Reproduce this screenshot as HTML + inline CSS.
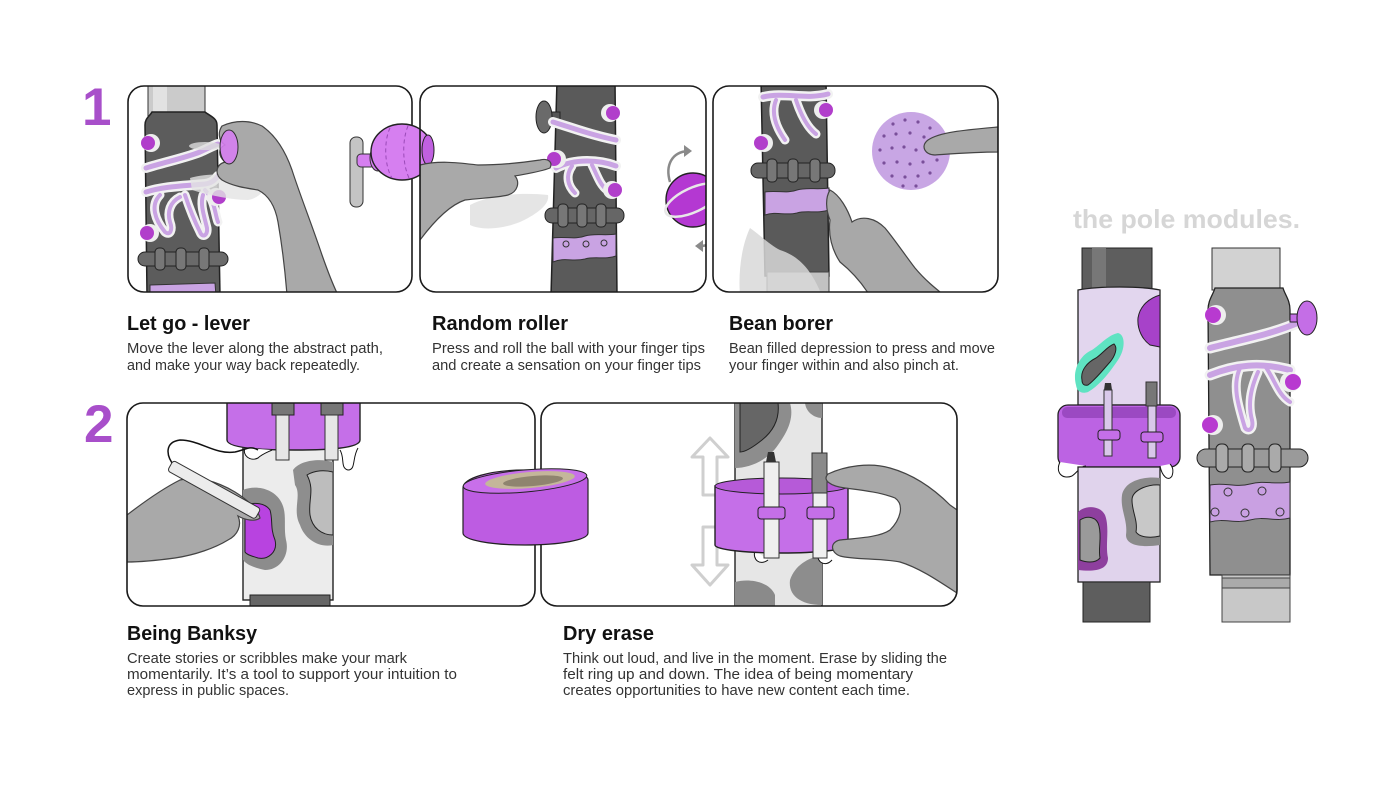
<!DOCTYPE html>
<html><head><meta charset="utf-8"><style>
html,body{margin:0;padding:0;background:#fff;}
svg{display:block;}
.t{font-family:"Liberation Sans",Arial,sans-serif;font-weight:bold;font-size:20px;fill:#111;}
.b{font-family:"Liberation Sans",Arial,sans-serif;font-size:14.5px;fill:#333;}
.n{font-family:"Liberation Sans",Arial,sans-serif;font-weight:bold;font-size:53px;fill:#a84fca;}
</style></head><body>
<svg width="1400" height="788" viewBox="0 0 1400 788" xmlns="http://www.w3.org/2000/svg">
<defs>
<clipPath id="c1"><rect x="128" y="86" width="284" height="206" rx="16"/></clipPath>
<clipPath id="c2"><rect x="420" y="86" width="286" height="206" rx="16"/></clipPath>
<clipPath id="c3"><rect x="713" y="86" width="285" height="206" rx="16"/></clipPath>
<clipPath id="c4"><rect x="127" y="403" width="408" height="203" rx="16"/></clipPath>
<clipPath id="c5"><rect x="541" y="403" width="416" height="203" rx="16"/></clipPath>
</defs>
<rect width="1400" height="788" fill="#fff"/>

<!-- numbers -->
<text class="n" x="82" y="125">1</text>
<text class="n" x="84" y="442">2</text>

<!-- PANEL 1 -->
<g clip-path="url(#c1)">
 <rect x="148" y="80" width="57" height="36" fill="#cbcbcb" stroke="#333"/>
 <rect x="153" y="80" width="14" height="34" fill="#e2e2e2"/>
 <path d="M152,112 L205,112 C210,116 217,118 217,125 L220,296 L147,296 L145,125 C145,118 150,116 152,112 Z" fill="#5c5c5c" stroke="#222" stroke-width="1.5"/>
 <g fill="none" stroke-linecap="round">
  <path d="M146,168 C165,162 185,158 200,152 C207,149 212,146 218,144" stroke="#f2f2f2" stroke-width="10"/>
  <path d="M146,168 C165,162 185,158 200,152 C207,149 212,146 218,144" stroke="#c9a3e3" stroke-width="5"/>
  <path d="M146,192 C165,186 185,186 205,184 C212,183 215,180 218,176" stroke="#f2f2f2" stroke-width="10"/>
  <path d="M160,195 C150,205 155,220 165,232 C170,236 173,230 170,222 C167,212 170,202 180,197" stroke="#f2f2f2" stroke-width="9"/>
  <path d="M185,195 C190,210 195,222 200,232 C202,238 208,236 207,228 C204,215 200,205 203,195" stroke="#f2f2f2" stroke-width="9"/>
  <path d="M205,190 C215,200 215,215 218,222" stroke="#f2f2f2" stroke-width="9"/>
  <path d="M146,192 C165,186 185,186 205,184 C212,183 215,180 218,176" stroke="#c9a3e3" stroke-width="5"/>
  <path d="M160,195 C150,205 155,220 165,232 C170,236 173,230 170,222 C167,212 170,202 180,197" stroke="#c9a3e3" stroke-width="4"/>
  <path d="M185,195 C190,210 195,222 200,232 C202,238 208,236 207,228 C204,215 200,205 203,195" stroke="#c9a3e3" stroke-width="4"/>
  <path d="M205,190 C215,200 215,215 218,222" stroke="#c9a3e3" stroke-width="4"/>
 </g>
 <circle cx="151" cy="143" r="9" fill="#eee"/><circle cx="148" cy="143" r="7" fill="#b13ecb"/>
 <circle cx="216" cy="197" r="9" fill="#eee"/><circle cx="219" cy="197" r="7" fill="#b13ecb"/>
 <circle cx="150" cy="233" r="9" fill="#eee"/><circle cx="147" cy="233" r="7" fill="#b13ecb"/>
 <rect x="138" y="252" width="90" height="14" rx="7" fill="#6a6a6a" stroke="#222"/>
 <rect x="155" y="248" width="10" height="22" rx="4" fill="#777" stroke="#222"/>
 <rect x="176" y="248" width="10" height="22" rx="4" fill="#777" stroke="#222"/>
 <rect x="199" y="248" width="10" height="22" rx="4" fill="#777" stroke="#222"/>
 <path d="M150,285 L215,283 L216,296 L150,296 Z" fill="#c9a3e3" stroke="#333"/>
 <path d="M190,178 C210,172 240,175 265,178 C268,188 260,198 248,200 C230,200 205,194 192,190 Z" fill="#e3e3e3" opacity="0.8"/>
 <ellipse cx="205" cy="146" rx="16" ry="4" fill="#dcdcdc" opacity="0.8"/>
 <path d="M222,126 C235,120 250,120 262,126 C275,135 285,150 292,170 C300,195 312,225 322,255 C328,272 333,285 338,295 L287,295 C285,270 282,245 278,222 C275,205 268,195 258,190 C245,188 232,186 222,180 C215,175 215,165 225,162 C218,156 218,148 225,145 C218,140 218,132 222,126 Z" fill="#a9a9a9" stroke="#444" stroke-width="1.2"/>
 <ellipse cx="229" cy="147" rx="9" ry="17" fill="#d67ff0" stroke="#222" opacity="0.9"/>
</g>
<rect x="128" y="86" width="284" height="206" rx="16" fill="none" stroke="#1a1a1a" stroke-width="1.6"/>
<rect x="350" y="137" width="13" height="70" rx="6" fill="#c4c4c4" stroke="#333"/>
<rect x="357" y="154" width="18" height="13" rx="4" fill="#d67ff0" stroke="#333"/>
<ellipse cx="378" cy="158" rx="8" ry="13" fill="#d67ff0" stroke="#333"/>
<ellipse cx="402" cy="152" rx="31" ry="28" fill="#d67ff0" stroke="#222" stroke-width="1.4"/>
<path d="M390,128 C384,140 384,165 392,178 M408,126 C402,140 402,165 410,180" fill="none" stroke="#9a4ab8" stroke-dasharray="4 3"/>
<ellipse cx="428" cy="150" rx="6" ry="15" fill="#c060e0" stroke="#222"/>

<!-- PANEL 2 -->
<g clip-path="url(#c2)">
 <path d="M557,80 L615,80 L617,296 L551,296 Z" fill="#5a5a5a" stroke="#222" stroke-width="1.5"/>
 <rect x="548" y="112" width="12" height="9" fill="#555" stroke="#222"/>
 <ellipse cx="544" cy="117" rx="8" ry="16" fill="#6a6a6a" stroke="#222"/>
 <g fill="none" stroke-linecap="round">
  <path d="M553,122 C570,127 590,135 616,140" stroke="#f2f2f2" stroke-width="10"/>
  <path d="M556,168 C575,158 600,160 616,166" stroke="#f2f2f2" stroke-width="10"/>
  <path d="M572,166 C565,176 568,186 575,193" stroke="#f2f2f2" stroke-width="9"/>
  <path d="M592,165 C597,175 600,185 607,190" stroke="#f2f2f2" stroke-width="9"/>
  <path d="M553,122 C570,127 590,135 616,140" stroke="#c9a3e3" stroke-width="5"/>
  <path d="M556,168 C575,158 600,160 616,166" stroke="#c9a3e3" stroke-width="5"/>
  <path d="M572,166 C565,176 568,186 575,193" stroke="#c9a3e3" stroke-width="4"/>
  <path d="M592,165 C597,175 600,185 607,190" stroke="#c9a3e3" stroke-width="4"/>
 </g>
 <circle cx="610" cy="113" r="9" fill="#eee"/><circle cx="613" cy="113" r="7" fill="#b13ecb"/>
 <circle cx="557" cy="159" r="9" fill="#eee"/><circle cx="554" cy="159" r="7" fill="#b13ecb"/>
 <circle cx="612" cy="190" r="9" fill="#eee"/><circle cx="615" cy="190" r="7" fill="#b13ecb"/>
 <rect x="545" y="208" width="79" height="15" rx="7" fill="#666" stroke="#222"/>
 <rect x="558" y="204" width="10" height="23" rx="4" fill="#777" stroke="#222"/>
 <rect x="577" y="204" width="10" height="23" rx="4" fill="#777" stroke="#222"/>
 <rect x="596" y="204" width="10" height="23" rx="4" fill="#777" stroke="#222"/>
 <path d="M553,238 C565,236 575,240 585,236 C595,233 605,236 616,234 L616,256 C605,260 595,256 585,259 C572,262 565,257 553,262 Z" fill="#c9a3e3" stroke="#333"/>
 <circle cx="566" cy="244" r="3" fill="none" stroke="#333"/><circle cx="586" cy="244" r="3" fill="none" stroke="#333"/><circle cx="604" cy="243" r="3" fill="none" stroke="#333"/>
 <path d="M470,205 C490,195 520,192 548,195 C550,205 535,215 520,222 C500,230 480,230 470,225 Z" fill="#e0e0e0" opacity="0.85"/>
 <path d="M420,165 C440,160 460,163 478,165 C500,165 520,163 540,160 C548,158 553,162 550,168 C540,172 525,174 515,176 C520,182 518,192 508,195 C495,198 480,198 465,200 C450,205 435,220 420,240 Z" fill="#a9a9a9" stroke="#444" stroke-width="1.2"/>
 <circle cx="693" cy="200" r="27" fill="#b438d2" stroke="#222" stroke-width="1.4"/>
 <ellipse cx="693" cy="200" rx="30" ry="12" transform="rotate(-25 693 200)" fill="none" stroke="#e8e8e8" stroke-width="2.5"/>
 <path d="M670,182 C665,165 672,152 688,151" fill="none" stroke="#8a8a8a" stroke-width="2.5"/>
 <polygon points="692,151 684,145 684,157" fill="#8a8a8a"/>
 <path d="M718,222 C722,238 712,246 700,246" fill="none" stroke="#8a8a8a" stroke-width="2.5"/>
 <polygon points="695,246 703,240 703,252" fill="#8a8a8a"/>
</g>
<rect x="420" y="86" width="286" height="206" rx="16" fill="none" stroke="#1a1a1a" stroke-width="1.6"/>

<!-- PANEL 3 -->
<g clip-path="url(#c3)">
 <path d="M761,80 L826,80 L829,276 L765,276 Z" fill="#5a5a5a" stroke="#222" stroke-width="1.5"/>
 <rect x="767" y="272" width="62" height="26" fill="#c2c2c2" stroke="#444"/>
 <g fill="none" stroke-linecap="round">
  <path d="M763,97 C785,92 805,100 828,94" stroke="#f2f2f2" stroke-width="10"/>
  <path d="M776,100 C770,115 778,130 785,140" stroke="#f2f2f2" stroke-width="9"/>
  <path d="M796,100 C801,115 808,128 816,134" stroke="#f2f2f2" stroke-width="9"/>
  <path d="M763,97 C785,92 805,100 828,94" stroke="#c9a3e3" stroke-width="5"/>
  <path d="M776,100 C770,115 778,130 785,140" stroke="#c9a3e3" stroke-width="4"/>
  <path d="M796,100 C801,115 808,128 816,134" stroke="#c9a3e3" stroke-width="4"/>
 </g>
 <circle cx="823" cy="110" r="9" fill="#eee"/><circle cx="826" cy="110" r="7" fill="#b13ecb"/>
 <circle cx="764" cy="143" r="9" fill="#eee"/><circle cx="761" cy="143" r="7" fill="#b13ecb"/>
 <rect x="751" y="163" width="84" height="15" rx="7" fill="#666" stroke="#222"/>
 <rect x="767" y="159" width="10" height="23" rx="4" fill="#777" stroke="#222"/>
 <rect x="788" y="159" width="10" height="23" rx="4" fill="#777" stroke="#222"/>
 <rect x="810" y="159" width="10" height="23" rx="4" fill="#777" stroke="#222"/>
 <path d="M765,192 C777,190 787,194 797,190 C807,187 817,190 829,188 L829,210 C817,214 807,210 797,213 C785,216 777,211 765,215 Z" fill="#c9a3e3" stroke="#333"/>
 <path d="M740,296 C738,270 742,245 750,228 C760,235 770,245 780,250 C795,255 810,265 822,296 Z" fill="#d8d8d8" opacity="0.85"/>
 <path d="M830,190 C840,195 848,210 852,222 C862,215 875,218 885,228 C895,240 905,255 915,268 C925,280 935,288 945,296 L870,296 C860,280 850,270 840,262 C832,250 828,235 830,220 C826,210 825,198 830,190 Z" fill="#a8a8a8" stroke="#444" stroke-width="1.2"/>
 <circle cx="911" cy="151" r="39" fill="#c8a6e4"/>
 <g fill="#7a4f9a">
  <circle cx="893" cy="124" r="1.6"/><circle cx="905" cy="120" r="1.6"/><circle cx="918" cy="122" r="1.6"/><circle cx="930" cy="128" r="1.6"/>
  <circle cx="884" cy="136" r="1.6"/><circle cx="896" cy="134" r="1.6"/><circle cx="910" cy="133" r="1.6"/><circle cx="924" cy="137" r="1.6"/><circle cx="938" cy="140" r="1.6"/>
  <circle cx="880" cy="150" r="1.6"/><circle cx="892" cy="148" r="1.6"/><circle cx="904" cy="147" r="1.6"/><circle cx="916" cy="150" r="1.6"/>
  <circle cx="884" cy="163" r="1.6"/><circle cx="897" cy="162" r="1.6"/><circle cx="910" cy="164" r="1.6"/><circle cx="923" cy="162" r="1.6"/><circle cx="937" cy="160" r="1.6"/>
  <circle cx="892" cy="176" r="1.6"/><circle cx="905" cy="177" r="1.6"/><circle cx="918" cy="176" r="1.6"/><circle cx="930" cy="173" r="1.6"/>
  <circle cx="903" cy="186" r="1.6"/><circle cx="916" cy="186" r="1.6"/>
 </g>
 <path d="M928,140 C940,132 965,130 998,127 L998,152 C975,152 950,154 935,155 C925,155 920,146 928,140 Z" fill="#a9a9a9" stroke="#444" stroke-width="1.2"/>
</g>
<rect x="713" y="86" width="285" height="206" rx="16" fill="none" stroke="#1a1a1a" stroke-width="1.6"/>

<!-- PANEL 4 -->
<g clip-path="url(#c4)">
 <rect x="243" y="440" width="90" height="160" fill="#ececec" stroke="#222" stroke-width="1.4"/>
 <rect x="250" y="595" width="80" height="15" fill="#666" stroke="#222"/>
 <path d="M293,470 C300,460 320,458 333,462 L333,545 C320,548 305,540 300,525 C292,510 302,495 295,485 Z" fill="#8e8e8e"/>
 <path d="M307,475 C315,470 325,470 333,472 L333,535 C322,535 312,528 310,515 C308,500 315,490 307,475 Z" fill="#bdbdbd" stroke="#222"/>
 <path d="M243,490 C255,485 272,488 280,500 C288,512 283,525 286,540 C290,555 280,570 265,570 C255,568 247,565 243,560 Z" fill="#8c8c8c"/>
 <path d="M245,505 C255,502 265,503 270,510 C273,520 270,528 275,540 C278,552 268,560 258,558 C252,556 247,555 245,552 Z" fill="#b843e0" stroke="#222"/>
 <path d="M227,398 L360,398 L360,440 C360,448 330,450 295,450 C260,450 227,448 227,440 Z" fill="#c56fe8" stroke="#222" stroke-width="1.4"/>
 <path d="M245,448 C242,455 250,462 258,458 C262,454 268,452 272,450" fill="#fff" stroke="#111"/>
 <path d="M340,450 C345,458 340,468 348,470 C356,470 352,458 358,448" fill="#fff" stroke="#111"/>
 <rect x="272" y="403" width="22" height="12" fill="#777" stroke="#222"/>
 <rect x="276" y="415" width="13" height="45" fill="#e6e6e6" stroke="#333"/>
 <rect x="321" y="403" width="22" height="12" fill="#777" stroke="#222"/>
 <rect x="325" y="415" width="13" height="45" fill="#e6e6e6" stroke="#333"/>
 <path d="M175,467 C165,455 165,442 180,440 C200,440 215,455 235,452 C245,450 250,445 258,450" fill="none" stroke="#111" stroke-width="1.5"/>
 <path d="M127,515 C140,505 160,490 180,480 C195,476 215,480 235,492 C248,500 258,510 260,518 C255,522 245,520 238,516 C242,525 238,535 228,540 C215,548 195,555 175,558 C160,560 140,562 127,562 Z" fill="#a9a9a9" stroke="#444" stroke-width="1.2"/>
 <g transform="rotate(29 173 467)"><rect x="170" y="461" width="100" height="12" rx="3" fill="#ececec" stroke="#333"/></g>
</g>
<rect x="127" y="403" width="408" height="203" rx="16" fill="none" stroke="#1a1a1a" stroke-width="1.6"/>

<!-- PANEL 5 -->
<g clip-path="url(#c5)">
 <rect x="735" y="398" width="87" height="215" fill="#e6e6e6" stroke="#222" stroke-width="1.4"/>
 <path d="M735,403 L790,403 C795,420 785,435 778,445 C768,460 750,468 735,468 Z" fill="#8d8d8d"/>
 <path d="M740,403 L778,403 C780,420 772,432 762,440 C752,448 745,452 740,452 Z" fill="#666" stroke="#222"/>
 <path d="M805,403 L822,403 L822,418 C814,418 806,412 805,403 Z" fill="#8d8d8d"/>
 <path d="M735,582 C750,578 770,582 775,595 L775,610 L735,610 Z" fill="#8a8a8a"/>
 <path d="M822,555 C808,558 795,565 790,580 C788,595 800,605 822,605 Z" fill="#8d8d8d"/>
 <polygon points="710,438 728,457 717,457 717,495 703,495 703,457 692,457" fill="#fff" stroke="#cfcfcf" stroke-width="3" stroke-linejoin="round"/>
 <polygon points="703,527 717,527 717,565 728,565 710,585 692,565 703,565" fill="#fff" stroke="#cfcfcf" stroke-width="3" stroke-linejoin="round"/>
 <path d="M755,550 C752,560 760,566 768,560" fill="#fff" stroke="#111"/>
 <path d="M818,550 C815,562 825,568 832,560" fill="#fff" stroke="#111"/>
 <path d="M715,486 L848,486 L848,545 C848,550 815,553 782,553 C749,553 715,550 715,545 Z" fill="#c56fe8" stroke="#222" stroke-width="1.4"/>
 <ellipse cx="781.5" cy="486" rx="66.5" ry="8" fill="#b65ad8" stroke="#222"/>
 <path d="M768,452 L774,452 L776,462 L766,462 Z" fill="#333"/>
 <rect x="764" y="462" width="15" height="96" fill="#efefef" stroke="#333"/>
 <rect x="812" y="453" width="15" height="40" fill="#8a8a8a" stroke="#333"/>
 <rect x="813" y="493" width="14" height="65" fill="#efefef" stroke="#333"/>
 <rect x="758" y="507" width="27" height="12" rx="3" fill="#c56fe8" stroke="#222"/>
 <rect x="807" y="507" width="27" height="12" rx="3" fill="#c56fe8" stroke="#222"/>
 <path d="M828,474 C845,466 870,462 890,468 C915,475 935,490 950,505 L960,512 L960,595 C940,582 920,568 900,562 C880,558 855,560 840,556 C830,552 830,542 840,540 C860,538 880,537 890,530 C900,520 905,505 895,498 C880,492 860,490 845,488 C830,486 822,480 828,474 Z" fill="#a9a9a9" stroke="#444" stroke-width="1.2"/>
</g>
<rect x="541" y="403" width="416" height="203" rx="16" fill="none" stroke="#1a1a1a" stroke-width="1.6"/>

<!-- tape roll -->
<path d="M463,488 C463,478 490,470 525,470 C560,470 588,472 588,480 L588,533 C588,540 560,545 525,545 C490,545 463,540 463,533 Z" fill="#bd5ce2" stroke="#222" stroke-width="1.2"/>
<ellipse cx="525" cy="481" rx="62" ry="11" transform="rotate(-5 525 481)" fill="#c86fea" stroke="#222"/>
<ellipse cx="530" cy="480" rx="45" ry="8" transform="rotate(-5 530 480)" fill="#c4b69a"/>
<ellipse cx="533" cy="481" rx="30" ry="5" transform="rotate(-5 533 481)" fill="#8f846f"/>

<!-- RIGHT MODULES -->
<text x="1073" y="228" textLength="227" lengthAdjust="spacingAndGlyphs" style="font-family:'Liberation Sans',Arial,sans-serif;font-weight:bold;font-size:26px;fill:#d6d6d6;">the pole modules.</text>

<rect x="1082" y="248" width="70" height="42" fill="#5e5e5e" stroke="#222"/>
<rect x="1092" y="248" width="14" height="40" fill="#777"/>
<path d="M1078,290 C1100,286 1140,286 1160,290 L1160,405 L1078,405 Z" fill="#e2d6ee" stroke="#222" stroke-width="1.3"/>
<path d="M1076,385 C1072,370 1080,355 1092,350 C1100,345 1108,335 1118,333 C1126,335 1125,350 1118,360 C1110,372 1100,385 1088,392 C1082,394 1077,392 1076,385 Z" fill="#5fe3c2"/>
<path d="M1082,380 C1080,370 1088,362 1096,358 C1103,353 1108,346 1114,344 C1118,348 1115,356 1110,362 C1102,371 1095,380 1088,385 C1084,386 1082,384 1082,380 Z" fill="#666" stroke="#222"/>
<path d="M1160,295 C1150,298 1140,305 1138,318 C1137,330 1143,340 1150,345 L1160,347 Z" fill="#a742c9" stroke="#222"/>
<rect x="1058" y="405" width="122" height="62" rx="10" fill="#bc63e3" stroke="#222" stroke-width="1.3"/>
<rect x="1062" y="407" width="114" height="11" rx="5" fill="#9b49c2"/>
<path d="M1060,462 C1055,472 1062,480 1072,476 C1078,472 1080,466 1086,466" fill="#fff" stroke="#111"/>
<path d="M1160,466 C1162,476 1168,482 1172,476 C1174,470 1172,466 1170,464" fill="#fff" stroke="#111"/>
<path d="M1105,383 L1111,383 L1112,390 L1104,390 Z" fill="#333"/>
<rect x="1104" y="390" width="8" height="66" fill="#d9c8ea" stroke="#333"/>
<rect x="1146" y="382" width="11" height="24" fill="#777" stroke="#333"/>
<rect x="1148" y="406" width="8" height="52" fill="#d9c8ea" stroke="#333"/>
<rect x="1098" y="430" width="22" height="10" rx="3" fill="#c56fe8" stroke="#222"/>
<rect x="1141" y="432" width="22" height="10" rx="3" fill="#c56fe8" stroke="#222"/>
<rect x="1078" y="467" width="82" height="115" fill="#e0d3ec" stroke="#222" stroke-width="1.3"/>
<path d="M1160,478 C1145,476 1125,480 1122,495 C1120,510 1128,520 1126,535 C1126,545 1140,548 1160,545 Z" fill="#8a8a8a"/>
<path d="M1160,485 C1148,484 1132,490 1132,500 C1132,512 1138,520 1136,532 C1140,538 1152,538 1160,536 Z" fill="#c8c8c8" stroke="#222"/>
<path d="M1078,512 C1085,505 1100,505 1105,515 C1110,528 1105,545 1108,558 C1108,570 1095,572 1078,570 Z" fill="#8e3f9e"/>
<path d="M1080,520 C1088,515 1097,517 1099,526 C1102,538 1098,548 1100,558 C1095,564 1085,562 1080,560 Z" fill="#9a9a9a" stroke="#222"/>
<rect x="1083" y="582" width="67" height="40" fill="#5e5e5e" stroke="#222"/>

<rect x="1212" y="248" width="68" height="42" fill="#d2d2d2" stroke="#333"/>
<path d="M1215,288 L1283,288 C1285,295 1290,300 1290,310 L1290,575 L1210,575 L1208,310 C1208,300 1213,295 1215,288 Z" fill="#8f8f8f" stroke="#222" stroke-width="1.3"/>
<rect x="1222" y="575" width="68" height="47" fill="#c8c8c8" stroke="#444"/>
<rect x="1222" y="578" width="68" height="10" fill="#aaa" stroke="#444"/>
<g fill="none" stroke-linecap="round">
 <path d="M1210,348 C1240,340 1270,335 1300,322" stroke="#f2f2f2" stroke-width="11"/>
 <path d="M1210,375 C1235,365 1260,362 1290,370" stroke="#f2f2f2" stroke-width="11"/>
 <path d="M1240,368 C1232,385 1238,405 1245,428 C1248,432 1254,430 1252,420 C1248,405 1250,390 1258,372" stroke="#f2f2f2" stroke-width="9"/>
 <path d="M1265,366 C1275,380 1278,395 1290,402" stroke="#f2f2f2" stroke-width="9"/>
 <path d="M1210,348 C1240,340 1270,335 1300,322" stroke="#c9a3e3" stroke-width="6"/>
 <path d="M1210,375 C1235,365 1260,362 1290,370" stroke="#c9a3e3" stroke-width="6"/>
 <path d="M1240,368 C1232,385 1238,405 1245,428 C1248,432 1254,430 1252,420 C1248,405 1250,390 1258,372" stroke="#c9a3e3" stroke-width="4"/>
 <path d="M1265,366 C1275,380 1278,395 1290,402" stroke="#c9a3e3" stroke-width="4"/>
</g>
<circle cx="1216" cy="315" r="10" fill="#eee"/><circle cx="1213" cy="315" r="8" fill="#b83ad0"/>
<circle cx="1290" cy="382" r="10" fill="#eee"/><circle cx="1293" cy="382" r="8" fill="#b83ad0"/>
<circle cx="1213" cy="425" r="10" fill="#eee"/><circle cx="1210" cy="425" r="8" fill="#b83ad0"/>
<rect x="1290" y="314" width="12" height="8" fill="#c46ee6" stroke="#222"/>
<ellipse cx="1307" cy="318" rx="10" ry="17" fill="#c46ee6" stroke="#222"/>
<rect x="1197" y="449" width="111" height="18" rx="9" fill="#9a9a9a" stroke="#222"/>
<rect x="1216" y="444" width="12" height="28" rx="5" fill="#aaa" stroke="#222"/>
<rect x="1242" y="444" width="12" height="28" rx="5" fill="#aaa" stroke="#222"/>
<rect x="1269" y="444" width="12" height="28" rx="5" fill="#aaa" stroke="#222"/>
<path d="M1210,485 C1225,482 1235,488 1250,484 C1265,480 1275,485 1290,482 L1290,518 C1275,522 1265,516 1250,520 C1235,524 1225,518 1210,522 Z" fill="#c9a0e2" stroke="#333"/>
<circle cx="1228" cy="492" r="4" fill="none" stroke="#333"/><circle cx="1262" cy="491" r="4" fill="none" stroke="#333"/>
<circle cx="1215" cy="512" r="4" fill="none" stroke="#333"/><circle cx="1245" cy="513" r="4" fill="none" stroke="#333"/><circle cx="1280" cy="512" r="4" fill="none" stroke="#333"/>

<!-- TEXT row 1 -->
<text class="t" x="127" y="330" textLength="123" lengthAdjust="spacingAndGlyphs">Let go - lever</text>
<text class="b" x="127" y="353" textLength="256" lengthAdjust="spacingAndGlyphs">Move the lever along the abstract path,</text>
<text class="b" x="127" y="370" textLength="233" lengthAdjust="spacingAndGlyphs">and make your way back repeatedly.</text>

<text class="t" x="432" y="330" textLength="136" lengthAdjust="spacingAndGlyphs">Random roller</text>
<text class="b" x="432" y="353" textLength="273" lengthAdjust="spacingAndGlyphs">Press and roll the ball with your finger tips</text>
<text class="b" x="432" y="370" textLength="269" lengthAdjust="spacingAndGlyphs">and create a sensation on your finger tips</text>

<text class="t" x="729" y="330" textLength="104" lengthAdjust="spacingAndGlyphs">Bean borer</text>
<text class="b" x="729" y="353" textLength="266" lengthAdjust="spacingAndGlyphs">Bean filled depression to press and move</text>
<text class="b" x="729" y="370" textLength="230" lengthAdjust="spacingAndGlyphs">your finger within and also pinch at.</text>

<!-- TEXT row 2 -->
<text class="t" x="127" y="640" textLength="130" lengthAdjust="spacingAndGlyphs">Being Banksy</text>
<text class="b" x="127" y="663" textLength="280" lengthAdjust="spacingAndGlyphs">Create stories or scribbles make your mark</text>
<text class="b" x="127" y="679" textLength="330" lengthAdjust="spacingAndGlyphs">momentarily. It’s a tool to support your intuition to</text>
<text class="b" x="127" y="695" textLength="162" lengthAdjust="spacingAndGlyphs">express in public spaces.</text>

<text class="t" x="563" y="640" textLength="91" lengthAdjust="spacingAndGlyphs">Dry erase</text>
<text class="b" x="563" y="663" textLength="384" lengthAdjust="spacingAndGlyphs">Think out loud, and live in the moment. Erase by sliding the</text>
<text class="b" x="563" y="679" textLength="350" lengthAdjust="spacingAndGlyphs">felt ring up and down. The idea of being momentary</text>
<text class="b" x="563" y="695" textLength="347" lengthAdjust="spacingAndGlyphs">creates opportunities to have new content each time.</text>
</svg>
</body></html>
